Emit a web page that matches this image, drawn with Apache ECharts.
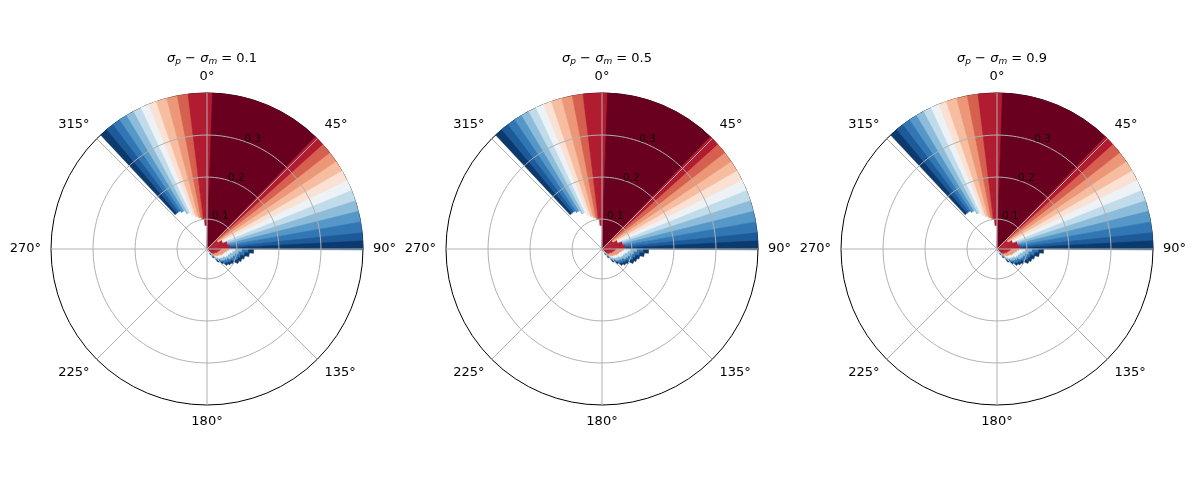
<!DOCTYPE html>
<html><head><meta charset="utf-8">
<script src="https://cdn.jsdelivr.net/npm/echarts@6/dist/echarts.min.js"></script>
<style>html,body{margin:0;background:#fff}#c{width:1200px;height:500px}</style>
</head><body><div id="c"></div>
<script>
// values
const titles = ['0.1', '0.5', '0.9'];
const angleTicks = [0, 45, 90, 135, 180, 225, 270, 315];
const ringValues = [0.1, 0.2, 0.3, 0.4];
const ringLabels = ['0.1', '0.2', '0.3', '0.4Hz'];
const rMin = 0.029, rMax = 0.4;
// angular contour bands (compass degrees) and their level index
const bandEdges = [-43,-40,-37,-34,-31,-28,-25,-22,-19,-15,-11,-7,2,44,48,52,56,60,64,68,72,76,80,84,87,90];
const bandLevels = [0,1,2,3,4,5,6,7,8,9,10,11,12,11,10,9,8,7,6,5,4,3,2,1,0];
// inner edge of coloured region, every 5 degrees from -45
const innerAngles = [-45,-40,-35,-30,-25,-20,-15,-10,-5,0];
const innerR =      [0.14,0.14,0.135,0.125,0.115,0.11,0.105,0.1,0.085,0.029];
// red core near centre for 45..90
const coreAngles = [44,50,60,70,80];
const coreR =      [0.05,0.06,0.07,0.08,0.085];
// lower lobe (90..150): outer radius
const lobeAngles = [90,95,100,105,110,115,120,125,130,135,140,145];
const lobeR =      [0.14,0.13,0.12,0.115,0.11,0.1,0.095,0.09,0.08,0.07,0.055,0.045];
const lobeLevels = [0,2,4,6,9,11];
const lobeFrac =   [0.12,0.14,0.14,0.14,0.16,0.30];
const colors = ['#0d3a6c','#1d5a9a','#3276b4','#5597c6','#8cbcd9','#c0dbea','#ecf2f5','#fbe1d3','#f7bda0','#ec9778','#d6604f','#b11c30','#6a0020'];

function step(xs, ys, x){ let v = ys[0]; for (let i=0;i<xs.length;i++) if (x>=xs[i]) v = ys[i]; return v; }
function levelAt(a){ for (let i=0;i<bandLevels.length;i++) if (a>=bandEdges[i] && a<bandEdges[i+1]) return bandLevels[i]; return 0; }

const raw = [];
for (let a=-43; a<90; a++){
  const lv = levelAt(a);
  let r0 = step(innerAngles, innerR, a);
  if (a>=44){ const rc = step(coreAngles, coreR, a); raw.push([a, a+1, rMin, rc, 11]); r0 = rc; }
  raw.push([a, a+1, r0, rMax, lv]);
}
for (let a=90; a<150; a++){
  const ro = step(lobeAngles, lobeR, a);
  let r = ro;
  for (let k=0;k<lobeLevels.length;k++){
    const w = (ro - rMin) * lobeFrac[k];
    const rIn = k===lobeLevels.length-1 ? rMin : r - w;
    raw.push([a, a+1, rIn, r, lobeLevels[k]]);
    r = rIn;
  }
}
// merge neighbouring cells with same radii and level
const cells = [];
raw.forEach(c => {
  const m = cells.find(p => p[1]===c[0] && Math.abs(p[2]-c[2])<1e-9 && Math.abs(p[3]-c[3])<1e-9 && p[4]===c[4]);
  if (m) m[1] = c[1]; else cells.push(c.slice());
});

const centersX = [207, 602, 997];
const CY = 249, R = 156;
const option = {animation:false, polar:[], angleAxis:[], radiusAxis:[], title:[], series:[]};
centersX.forEach((cx, i) => {
  option.polar.push({center:[cx, CY], radius:R});
  option.angleAxis.push({polarIndex:i, type:'value', min:0, max:360, interval:45, startAngle:90, clockwise:true,
    axisLine:{lineStyle:{color:'#000', width:1}}, axisTick:{show:false}, splitLine:{show:false},
    axisLabel:{color:'#000', fontSize:13, margin:10, fontFamily:'DejaVu Sans', formatter:v => v===360?'':v+'°'}});
  option.radiusAxis.push({polarIndex:i, type:'value', min:rMin, max:rMax, show:false, axisLine:{show:false}, splitLine:{show:false}, axisLabel:{show:false}, axisTick:{show:false}});
  option.title.push({left:cx, top:46, textAlign:'center',
    text:'{i|σ}{s|p}{n| − }{i|σ}{s|m}{n| = '+titles[i]+'}',
    textStyle:{fontWeight:'normal', rich:{i:{fontSize:13,fontStyle:'italic',fontWeight:'normal',fontFamily:'DejaVu Sans',color:'#000'},
      s:{fontSize:9,fontStyle:'italic',fontWeight:'normal',verticalAlign:'bottom',padding:[6,0,0,0],fontFamily:'DejaVu Sans',color:'#000'},
      n:{fontSize:13,fontWeight:'normal',fontFamily:'DejaVu Sans',color:'#000'}}}});
  option.series.push({type:'custom', coordinateSystem:'polar', polarIndex:i, silent:true, progressive:0, data:cells,
    renderItem:(params, api) => {
      const cs = params.coordSys;
      const sc = v => (v - rMin)/(rMax - rMin) * cs.r;
      const a0 = api.value(0), a1 = api.value(1);
      return {type:'sector', shape:{cx:cs.cx, cy:cs.cy, r0:sc(api.value(2)), r:sc(api.value(3)),
        startAngle:(a0-90)*Math.PI/180, endAngle:(a1-90+0.3)*Math.PI/180, clockwise:true},
        style:{fill:colors[api.value(4)], stroke:colors[api.value(4)], lineWidth:0.5, opacity:1}};
    }});
  ringValues.slice(0,3).forEach(rv => {
    const pts = []; for (let a=0;a<=360;a+=2) pts.push([rv, a]);
    option.series.push({type:'line', coordinateSystem:'polar', polarIndex:i, data:pts, showSymbol:false, silent:true,
      lineStyle:{color:'#b0b0b0', width:1}, z:5});
  });
  angleTicks.forEach(a => {
    option.series.push({type:'line', coordinateSystem:'polar', polarIndex:i, data:[[rMin,a],[rMax,a]], showSymbol:false, silent:true,
      lineStyle:{color:'#b0b0b0', width:1}, z:5});
  });
  option.series.push({type:'scatter', coordinateSystem:'polar', polarIndex:i, symbolSize:0, silent:true, z:6,
    data:ringValues.map((rv,k)=>({value:[rv+0.012, 22.5], label:{formatter:ringLabels[k]}})),
    label:{show:true, position:'inside', color:'#000', fontSize:10.5, fontFamily:'DejaVu Sans'}});
});
echarts.init(document.getElementById('c')).setOption(option);
</script></body></html>
